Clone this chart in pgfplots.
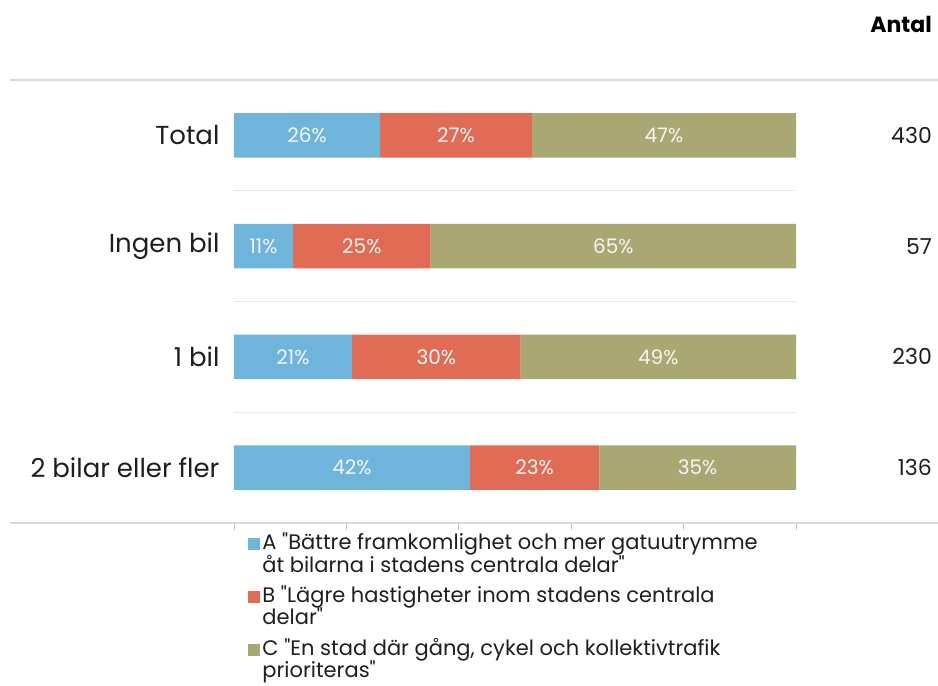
\documentclass[border=0pt]{standalone}
\usepackage{fontspec}
\setmainfont{Poppins}[Ligatures=TeXOff]
\usepackage{pgfplots}
\pgfplotsset{compat=1.18}

\definecolor{cA}{RGB}{111,180,219}
\definecolor{cB}{RGB}{224,108,85}
\definecolor{cC}{RGB}{169,168,115}
\definecolor{txt}{RGB}{30,30,30}

\newcommand{\two}[2]{\begin{tabular}[t]{@{}l@{}}#1\\[-1.5pt]#2\end{tabular}}

\begin{document}
\begin{tikzpicture}
\begin{axis}[
  xbar stacked,
  scale only axis,
  width=562pt, height=443pt,
  xmin=0, xmax=100,
  ymin=-0.5, ymax=3.5,
  bar width=0.4,
  axis line style={draw=none},
  xtick={0,20,...,100}, xticklabels={},
  xtick pos=bottom, tick align=outside,
  major tick length=7pt,
  x tick style={gray!45, line width=0.8pt},
  ytick={0,1,2,3},
  yticklabels={2 bilar eller fler, 1 bil, Ingen bil, Total},
  y tick style={draw=none},
  yticklabel style={font=\fontsize{26}{30}\selectfont, text=txt, xshift=-4pt},
  extra y ticks={0.5,1.5,2.5},
  extra y tick labels={},
  extra y tick style={grid=major, major grid style={gray!18, line width=0.8pt}, tick style={draw=none}},
  point meta=explicit symbolic,
  nodes near coords={\pgfplotspointmeta\%},
  every node near coord/.append style={font=\fontsize{20}{22}\selectfont, text=white!92!gray},
  clip=false,
  legend style={at={(0.02,0)}, anchor=north west, yshift=-6pt, draw=none, fill=none,
    font=\fontsize{21}{22}\selectfont, text=txt, row sep=30.5pt,
    cells={anchor=base west}},
  legend image code/.code={\fill[#1] (0pt,0pt) rectangle (12pt,12pt);},
]
\addplot[fill=cA, draw=none] coordinates {(26,3) [26] (10.5,2) [11] (21,1) [21] (42,0) [42]};
\addplot[fill=cB, draw=none] coordinates {(27,3) [27] (24.5,2) [25] (30,1) [30] (23,0) [23]};
\addplot[fill=cC, draw=none] coordinates {(47,3) [47] (65,2) [65] (49,1) [49] (35,0) [35]};
\legend{{\two{A "Bättre framkomlighet och mer gatuutrymme}{åt bilarna i stadens centrala delar"}},
        {\two{B "Lägre hastigheter inom stadens centrala}{delar"}},
        {\two{C "En stad där gång, cykel och kollektivtrafik}{prioriteras"}}}
% frame lines above and below the bars
\draw[gray!30, line width=1.2pt] (axis cs:-39.9,3.5) -- (axis cs:125.3,3.5);
\draw[gray!30, line width=1.2pt] (axis cs:-39.9,-0.5) -- (axis cs:125.3,-0.5);
% count column
\node[anchor=east, font=\fontsize{22}{26}\selectfont\bfseries, text=black] at (axis cs:124.8,4.0) {Antal};
\node[anchor=east, font=\fontsize{22}{26}\selectfont, text=txt] at (axis cs:124.8,3) {430};
\node[anchor=east, font=\fontsize{22}{26}\selectfont, text=txt] at (axis cs:124.8,2) {57};
\node[anchor=east, font=\fontsize{22}{26}\selectfont, text=txt] at (axis cs:124.8,1) {230};
\node[anchor=east, font=\fontsize{22}{26}\selectfont, text=txt] at (axis cs:124.8,0) {136};
\end{axis}
\pgfresetboundingbox
\path[use as bounding box] ([xshift=-234pt,yshift=-163pt]current axis.south west)
  rectangle ([xshift=142pt,yshift=80pt]current axis.north east);
\end{tikzpicture}
\end{document}
